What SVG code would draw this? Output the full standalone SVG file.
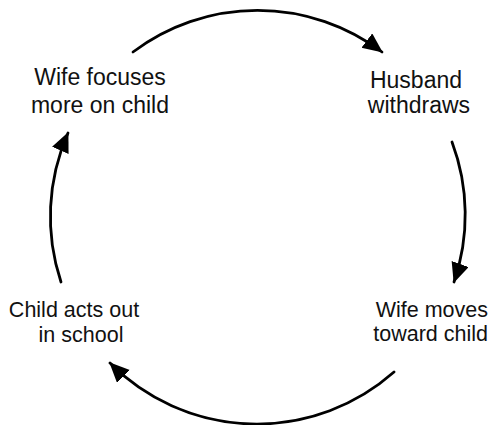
<svg xmlns="http://www.w3.org/2000/svg" width="491" height="425" viewBox="0 0 491 425">
<style>
.lbl{font-family:"Liberation Sans",Arial,sans-serif;font-size:23px;fill:#111;text-anchor:middle}
.sm{font-size:21.5px}
.end{text-anchor:end}
.arc{fill:none;stroke:#000;stroke-width:2.8;stroke-linecap:round}
</style>
<defs>
<marker id="ah" markerUnits="userSpaceOnUse" markerWidth="22" markerHeight="20" refX="19" refY="9" orient="auto">
<path d="M0,0 L20,9 L0,18 Z" fill="#000"/>
</marker>
</defs>
<rect width="491" height="425" fill="#fff"/>
<g id="connectors">
<path class="arc" d="M133,52 A207,207 0 0 1 382,52" marker-end="url(#ah)"/>
<path class="arc" d="M452,142 A207,207 0 0 1 454,282" marker-end="url(#ah)"/>
<path class="arc" d="M394,372 A207,207 0 0 1 110,363" marker-end="url(#ah)"/>
<path class="arc" d="M61,282 A207,207 0 0 1 68,133" marker-end="url(#ah)"/>
</g>
<g id="wife-focuses">
<text class="lbl" x="100" y="85">Wife focuses</text>
<text class="lbl" x="100" y="113">more on child</text>
</g>
<g id="husband-withdraws">
<text class="lbl" x="416" y="88">Husband</text>
<text class="lbl" x="419" y="113">withdraws</text>
</g>
<g id="wife-moves">
<text class="lbl sm end" x="488" y="317">Wife moves</text>
<text class="lbl sm end" x="488" y="341">toward child</text>
</g>
<g id="child-acts">
<text class="lbl sm" x="74" y="317">Child acts out</text>
<text class="lbl sm" x="81" y="342">in school</text>
</g>
</svg>
